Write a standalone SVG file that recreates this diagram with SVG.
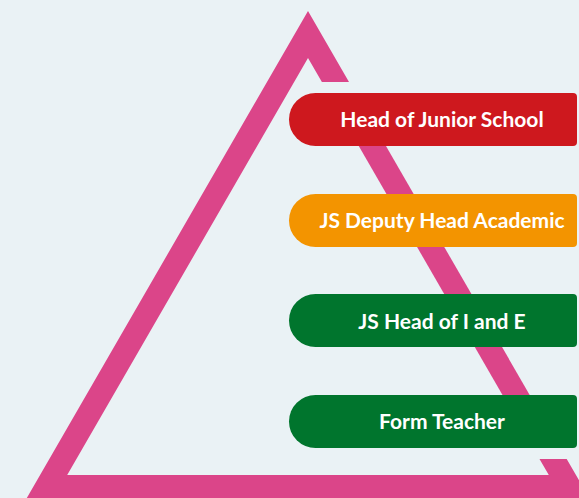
<svg xmlns="http://www.w3.org/2000/svg" width="579" height="498" viewBox="0 0 579 498">
<style>
.lbl{font-family:Lato,"Open Sans","Liberation Sans",sans-serif;font-weight:700;font-size:21px;fill:#ffffff;text-anchor:middle}
.tri{fill:#DB4589}
</style>
<defs>
<path id="pill" d="M315.5,0 H573 Q577,0 577,4 V49 Q577,53 573,53 H315.5 A26.5,26.5 0 0 1 315.5,0 Z"/>
</defs>
<rect width="579" height="498" fill="#EAF2F5"/>
<g id="triangle">
<polygon class="tri" points="308,11 349,82 321.9,82 308,58 67.2,475 548.8,475 539.5,459 566.7,459 589.2,498 26.8,498"/>
<polygon class="tri" points="332.2,100 359.4,100 555.7,440 528.5,440"/>
</g>
<g id="connectors"></g>
<g id="node-head-junior" transform="translate(0,93)">
<use href="#pill" fill="#CE181E"/>
<text class="lbl" x="442" y="34">Head of Junior School</text>
</g>
<g id="node-deputy-academic" transform="translate(0,194)">
<use href="#pill" fill="#F39400"/>
<text class="lbl" x="442" y="34">JS Deputy Head Academic</text>
</g>
<g id="node-head-i-e" transform="translate(0,294)">
<use href="#pill" fill="#00752D"/>
<text class="lbl" x="442" y="35">JS Head of I and E</text>
</g>
<g id="node-form-teacher" transform="translate(0,395)">
<use href="#pill" fill="#00752D"/>
<text class="lbl" x="442" y="34">Form Teacher</text>
</g>
</svg>
